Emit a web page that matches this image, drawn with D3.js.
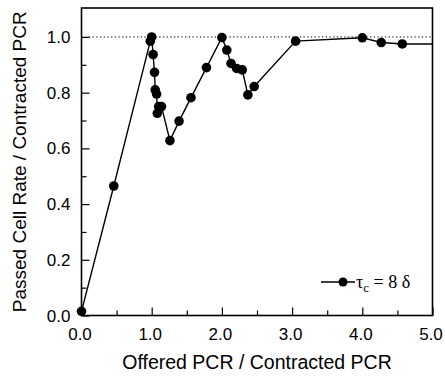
<!DOCTYPE html>
<html>
<head>
<meta charset="utf-8">
<script src="https://cdn.jsdelivr.net/npm/d3@7"></script>
<style>
  body { margin: 0; background: #fff; }
  text { font-family: "Liberation Sans", Arial, sans-serif; fill: #000; }
</style>
</head>
<body>
<div id="chart"></div>
<script>
// offered / contracted PCR vs passed cell rate / contracted PCR
var offered = [0.0, 0.46, 0.98, 1.0, 1.02, 1.04, 1.05, 1.07, 1.08, 1.10, 1.14, 1.26, 1.39, 1.56, 1.78,
               2.0, 2.07, 2.13, 2.21, 2.29, 2.37, 2.46, 3.05, 4.0, 4.27, 4.57, 5.0];
var passed  = [0.015, 0.465, 0.985, 1.0, 0.937, 0.873, 0.81, 0.795, 0.726, 0.75, 0.75, 0.628, 0.698, 0.782, 0.89,
               0.998, 0.953, 0.905, 0.887, 0.882, 0.792, 0.822, 0.985, 0.997, 0.98, 0.975, 0.975];
var xTicks = [0, 1, 2, 3, 4, 5];
var yTicks = [0, 0.2, 0.4, 0.6, 0.8, 1.0];
var legendLabel = "8 δ";

var width = 445, height = 384;
var margin = {top: 8, right: 12.5, bottom: 68.5, left: 81.5};
var w = width - margin.left - margin.right,
    h = height - margin.top - margin.bottom;

var svg = d3.select("#chart").append("svg")
    .attr("width", width)
    .attr("height", height);

var g = svg.append("g")
    .attr("transform", "translate(" + margin.left + "," + margin.top + ")");

var x = d3.scaleLinear().domain([0, 5]).range([0, w]);
var y = d3.scaleLinear().domain([0, 1.104]).range([h, 0]);

svg.append("defs").append("clipPath").attr("id", "clip")
  .append("rect").attr("width", w).attr("height", h);

// ticks (inward)
g.append("g")
    .attr("transform", "translate(0," + h + ")")
    .call(d3.axisTop(x).tickValues(d3.range(0.5, 5, 1)).tickSize(5).tickFormat(""))
    .call(function(a) { a.select(".domain").remove(); });
g.append("g")
    .attr("transform", "translate(0," + h + ")")
    .call(d3.axisTop(x).tickValues(xTicks).tickSize(8).tickFormat(""))
    .call(function(a) { a.select(".domain").remove(); });
g.append("g")
    .call(d3.axisRight(y).tickValues(d3.range(0.1, 1.1, 0.2)).tickSize(5).tickFormat(""))
    .call(function(a) { a.select(".domain").remove(); });
g.append("g")
    .call(d3.axisRight(y).tickValues(yTicks).tickSize(8).tickFormat(""))
    .call(function(a) { a.select(".domain").remove(); });
g.selectAll(".tick line").attr("stroke", "#000").attr("stroke-width", 1.2);

// tick labels
g.selectAll(".xlab").data(xTicks).enter().append("text")
    .attr("x", function(d) { return x(d) - 1.5; })
    .attr("y", h + 24)
    .attr("text-anchor", "middle")
    .style("font-size", "17px")
    .text(function(d) { return d.toFixed(1); });
g.selectAll(".ylab").data(yTicks).enter().append("text")
    .attr("x", -11)
    .attr("y", function(d) { return y(d) + 6; })
    .attr("text-anchor", "end")
    .style("font-size", "17px")
    .text(function(d) { return d.toFixed(1); });

// frame
g.append("rect")
    .attr("width", w).attr("height", h)
    .attr("fill", "none").attr("stroke", "#000").attr("stroke-width", 1.6);

// reference line at 1.0
g.append("line")
    .attr("x1", 0).attr("x2", w)
    .attr("y1", y(1)).attr("y2", y(1))
    .attr("stroke", "#000").attr("stroke-width", 1)
    .attr("stroke-dasharray", "1.3,2.4");

var pts = offered.map(function(d, i) { return [d, passed[i]]; });

var line = d3.line().x(function(d) { return x(d[0]); }).y(function(d) { return y(d[1]); });
g.append("path")
    .datum(pts)
    .attr("clip-path", "url(#clip)")
    .attr("d", line)
    .attr("fill", "none").attr("stroke", "#000").attr("stroke-width", 1.4);

g.selectAll(".dot").data(pts.filter(function(d) { return d[0] < 5; })).enter().append("circle")
    .attr("cx", function(d) { return x(d[0]); })
    .attr("cy", function(d) { return y(d[1]); })
    .attr("r", 4.8)
    .attr("fill", "#000");

// legend
var lg = svg.append("g").attr("transform", "translate(321,282)");
lg.append("line").attr("x1", 0).attr("x2", 34).attr("y1", 0).attr("y2", 0)
    .attr("stroke", "#000").attr("stroke-width", 1.4);
lg.append("circle").attr("cx", 22).attr("cy", 0).attr("r", 4.5).attr("fill", "#000");
var lt = lg.append("text")
    .attr("x", 35).attr("y", 5.5)
    .style("font-family", "'Liberation Serif', 'Times New Roman', serif")
    .style("font-size", "18px");
lt.append("tspan").text("τ");
lt.append("tspan").attr("dy", 4).style("font-size", "13px").text("c");
lt.append("tspan").attr("dy", -4).text(" = " + legendLabel);

// axis titles
svg.append("text")
    .attr("x", margin.left + w / 2)
    .attr("y", 369)
    .attr("text-anchor", "middle")
    .style("font-size", "19.5px")
    .text("Offered PCR / Contracted PCR");
svg.append("text")
    .attr("transform", "translate(25.5," + (margin.top + h / 2) + ") rotate(-90)")
    .attr("text-anchor", "middle")
    .style("font-size", "19px")
    .text("Passed Cell Rate / Contracted PCR");
</script>
</body>
</html>
